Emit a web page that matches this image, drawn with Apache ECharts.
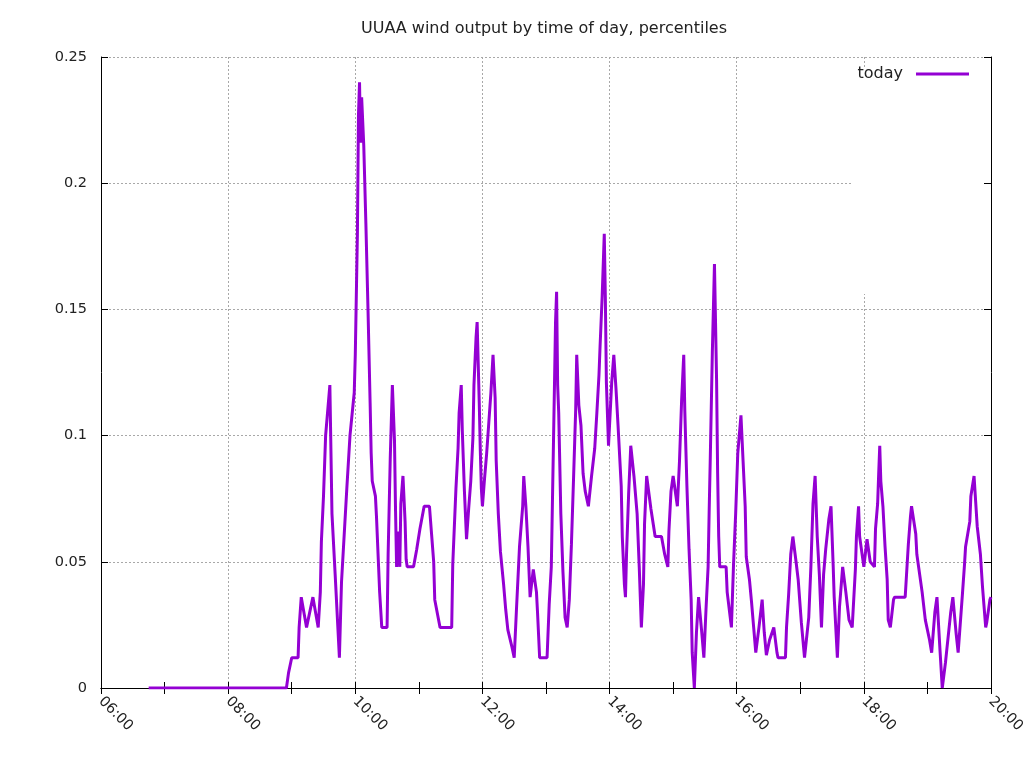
<!DOCTYPE html>
<html>
<head>
<meta charset="utf-8">
<script src="https://cdn.jsdelivr.net/npm/echarts@6/dist/echarts.min.js"></script>
<style>html,body{margin:0;padding:0;background:#fff;overflow:hidden}#c{width:1024px;height:768px}</style>
</head>
<body>
<div id="c"></div>
<script>
var chartTitle = "UUAA wind output by time of day, percentiles";
var seriesName = "today";
var xTickLabels = ["06:00","08:00","10:00","12:00","14:00","16:00","18:00","20:00"];
var yTicks = [0, 0.05, 0.1, 0.15, 0.2, 0.25];
var times = ["06:45","08:55","08:57","09:00","09:06","09:07","09:09","09:14","09:20","09:25","09:27","09:28","09:30","09:32","09:36","09:38","09:41","09:45","09:47","09:52","09:55","09:59","10:00","10:01","10:02","10:03","10:04","10:05","10:06","10:08","10:10","10:12","10:14","10:15","10:16","10:19","10:20","10:22","10:23","10:25","10:30","10:31","10:33","10:35","10:37","10:38","10:39","10:41","10:42","10:43","10:45","10:47","10:48","10:49","10:55","10:58","11:01","11:05","11:10","11:12","11:14","11:15","11:20","11:31","11:32","11:33","11:34","11:35","11:37","11:38","11:40","11:41","11:43","11:45","11:47","11:49","11:51","11:52","11:54","11:55","11:57","11:58","11:59","12:00","12:02","12:04","12:06","12:08","12:10","12:12","12:13","12:15","12:17","12:20","12:22","12:24","12:28","12:30","12:32","12:35","12:38","12:39","12:41","12:43","12:45","12:48","12:51","12:52","12:54","13:01","13:03","13:05","13:06","13:07","13:08","13:09","13:10","13:11","13:12","13:13","13:14","13:16","13:18","13:20","13:22","13:24","13:26","13:28","13:29","13:31","13:33","13:35","13:37","13:40","13:43","13:46","13:48","13:50","13:51","13:53","13:55","13:56","13:57","13:59","14:02","14:04","14:06","14:08","14:11","14:12","14:14","14:15","14:16","14:18","14:20","14:23","14:26","14:28","14:30","14:32","14:33","14:35","14:39","14:43","14:49","14:52","14:55","14:56","14:58","15:00","15:04","15:06","15:08","15:10","15:11","15:13","15:15","15:17","15:18","15:20","15:22","15:24","15:27","15:29","15:31","15:33","15:34","15:35","15:37","15:39","15:40","15:41","15:42","15:43","15:44","15:50","15:51","15:55","15:57","15:59","16:01","16:04","16:06","16:08","16:09","16:12","16:14","16:16","16:18","16:21","16:24","16:26","16:28","16:31","16:35","16:38","16:39","16:46","16:47","16:49","16:51","16:53","16:56","16:58","17:01","17:04","17:08","17:10","17:12","17:14","17:16","17:18","17:20","17:22","17:24","17:27","17:29","17:31","17:32","17:35","17:37","17:40","17:43","17:46","17:49","17:52","17:53","17:55","17:56","18:00","18:03","18:06","18:10","18:11","18:13","18:14","18:15","18:16","18:18","18:20","18:22","18:23","18:25","18:28","18:29","18:39","18:40","18:42","18:44","18:45","18:49","18:50","18:55","18:58","19:02","19:04","19:07","19:09","19:12","19:14","19:17","19:18","19:22","19:24","19:27","19:29","19:33","19:35","19:36","19:40","19:41","19:44","19:47","19:50","19:52","19:55","19:56","19:59","20:00"];
var values = [0,0,0.006,0.012,0.012,0.024,0.036,0.024,0.036,0.024,0.038,0.058,0.076,0.1,0.12,0.069,0.045,0.012,0.042,0.079,0.1,0.117,0.132,0.156,0.18,0.227,0.24,0.216,0.234,0.215,0.184,0.15,0.113,0.093,0.082,0.076,0.068,0.048,0.038,0.024,0.024,0.053,0.091,0.12,0.098,0.07,0.048,0.062,0.048,0.073,0.084,0.066,0.051,0.048,0.048,0.055,0.063,0.072,0.072,0.061,0.05,0.035,0.024,0.024,0.049,0.059,0.069,0.079,0.095,0.109,0.12,0.102,0.078,0.059,0.071,0.082,0.099,0.12,0.139,0.145,0.113,0.094,0.079,0.072,0.083,0.093,0.105,0.117,0.132,0.115,0.09,0.069,0.054,0.041,0.031,0.023,0.016,0.012,0.03,0.056,0.072,0.084,0.072,0.056,0.036,0.047,0.038,0.03,0.012,0.012,0.033,0.048,0.072,0.096,0.12,0.145,0.157,0.12,0.109,0.089,0.069,0.046,0.028,0.024,0.035,0.057,0.083,0.11,0.132,0.112,0.104,0.085,0.078,0.072,0.084,0.095,0.109,0.124,0.135,0.155,0.18,0.155,0.121,0.096,0.121,0.132,0.119,0.104,0.08,0.06,0.041,0.036,0.053,0.077,0.096,0.084,0.069,0.048,0.024,0.041,0.065,0.084,0.071,0.06,0.06,0.053,0.048,0.062,0.078,0.084,0.072,0.09,0.114,0.132,0.11,0.08,0.055,0.035,0.014,0,0.022,0.036,0.022,0.012,0.031,0.048,0.07,0.09,0.133,0.168,0.145,0.122,0.085,0.06,0.048,0.048,0.038,0.024,0.049,0.069,0.093,0.108,0.09,0.072,0.052,0.043,0.034,0.024,0.014,0.024,0.035,0.022,0.013,0.019,0.024,0.014,0.012,0.012,0.024,0.037,0.053,0.06,0.05,0.043,0.026,0.012,0.028,0.048,0.073,0.084,0.06,0.045,0.024,0.045,0.055,0.067,0.072,0.049,0.036,0.012,0.032,0.048,0.038,0.027,0.024,0.047,0.06,0.072,0.06,0.048,0.059,0.05,0.048,0.063,0.073,0.085,0.096,0.082,0.072,0.056,0.043,0.027,0.024,0.035,0.036,0.036,0.043,0.057,0.068,0.072,0.061,0.053,0.038,0.027,0.019,0.014,0.03,0.036,0.014,0,0.01,0.014,0.03,0.036,0.022,0.014,0.037,0.049,0.056,0.066,0.076,0.084,0.064,0.053,0.04,0.024,0.026,0.035,0.036];

function toMin(s){var p=s.split(":");return (+p[0])*60+(+p[1]);}
function fmt(m){var h=Math.floor(m/60),mm=m%60;return (h<10?"0":"")+h+":"+(mm<10?"0":"")+mm;}
var data = times.map(function(t,i){return [toMin(t), values[i]];});
var xMin = toMin(xTickLabels[0]), xMax = toMin(xTickLabels[xTickLabels.length-1]);
var yMax = yTicks[yTicks.length-1], yStep = yTicks[1]-yTicks[0];

var FONT = "DejaVu Sans";
var grid = {left:101, right:33, top:57, bottom:80, containLabel:false, outerBoundsMode:"none"};
var tickStyle = {color:"#000", width:1};
var chart = echarts.init(document.getElementById("c"), null, {renderer:"canvas"});
chart.setOption({
  animation:false,
  backgroundColor:"#fff",
  title:{text:chartTitle, left:539, top:16, textAlign:"center",
    textStyle:{fontFamily:FONT, fontSize:16, fontWeight:"normal", color:"#222"}},
  legend:{data:[seriesName], right:50, top:61, align:"right", icon:"rect",
    itemWidth:53, itemHeight:3,
    textStyle:{fontFamily:FONT, fontSize:16, color:"#222", padding:[0,8,0,0]}},
  grid:grid,
  graphic:[{type:"rect", z:1, shape:{x:851, y:67, width:132, height:227}, style:{fill:"#fff"}}],
  xAxis:[{type:"value", min:xMin, max:xMax, interval:120, position:"bottom",
      axisLine:{show:true, lineStyle:{color:"#000", width:1}},
      axisTick:{show:true, inside:true, length:6, lineStyle:tickStyle},
      minorTick:{show:true, splitNumber:2, length:6, lineStyle:tickStyle},
      axisLabel:{rotate:-45, margin:11, formatter:function(v){return fmt(v);},
        fontFamily:FONT, fontSize:14.5, color:"#222", showMinLabel:true, showMaxLabel:true},
      splitLine:{show:true, lineStyle:{color:"#a8a8a8", width:1, type:[2,2]}}},
    {type:"value", min:xMin, max:xMax, interval:120, position:"top",
      axisLine:{show:true, lineStyle:{color:"#000", width:1}},
      axisTick:{show:true, inside:true, length:6, lineStyle:tickStyle},
      minorTick:{show:true, splitNumber:2, length:6, lineStyle:tickStyle},
      axisLabel:{show:false}, splitLine:{show:false}}],
  yAxis:[{type:"value", min:0, max:yMax, interval:yStep, position:"left",
      axisLine:{show:true, lineStyle:{color:"#000", width:1}},
      axisTick:{show:true, inside:true, length:7, lineStyle:tickStyle},
      axisLabel:{margin:14, fontFamily:FONT, fontSize:14.5, color:"#222"},
      splitLine:{show:true, lineStyle:{color:"#a8a8a8", width:1, type:[2,2]}}},
    {type:"value", min:0, max:yMax, interval:yStep, position:"right",
      axisLine:{show:true, lineStyle:{color:"#000", width:1}},
      axisTick:{show:true, inside:true, length:7, lineStyle:tickStyle},
      axisLabel:{show:false}, splitLine:{show:false}}],
  series:[{name:seriesName, type:"line", data:data, showSymbol:false, symbol:"none",
    xAxisIndex:0, yAxisIndex:0, z:3,
    lineStyle:{color:"#9400d3", width:3}, itemStyle:{color:"#9400d3"}}]
});
</script>
</body>
</html>
